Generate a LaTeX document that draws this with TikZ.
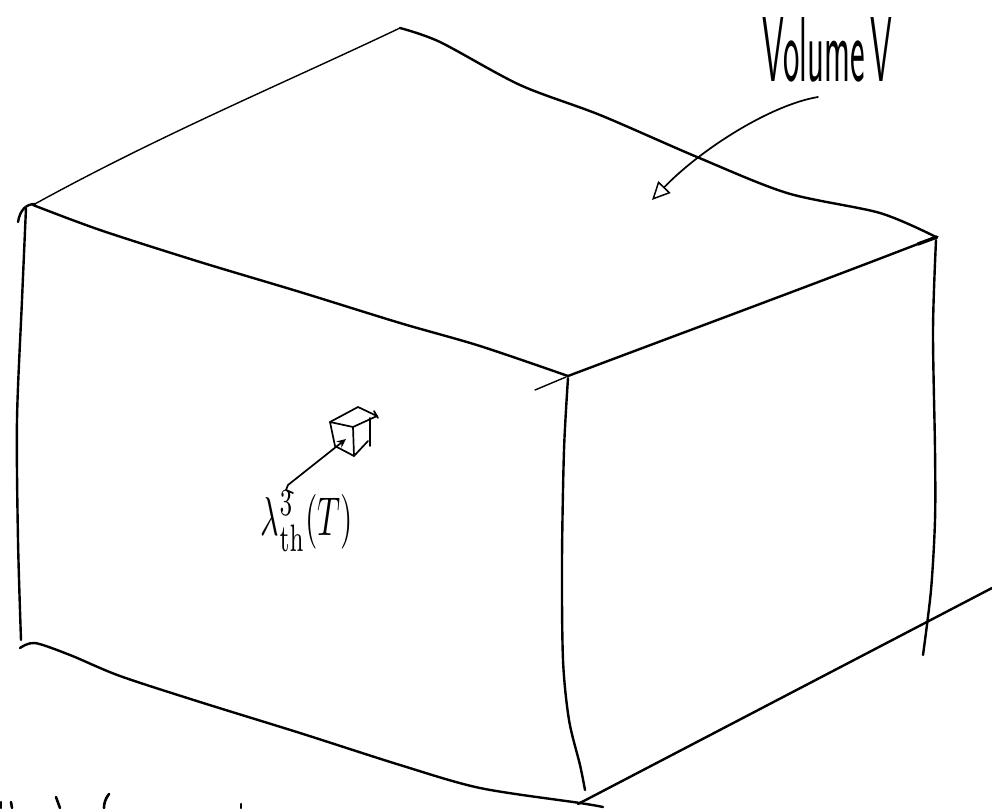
\documentclass[tikz,border=0pt]{standalone}
\usetikzlibrary{arrows.meta}
\begin{document}
\begin{tikzpicture}[x=1pt,y=-1pt,line cap=round,line join=round,
  edge/.style={line width=2.4pt},
  thinedge/.style={line width=1.4pt},
  smallcube/.style={line width=1.7pt},
  frag/.style={line width=2.6pt}]
\useasboundingbox[fill=white] (0,0) rectangle (992,808);
% corners
\coordinate (TB) at (400,28);
\coordinate (TL) at (33,205);
\coordinate (TF) at (568,376);
\coordinate (TR) at (936,237);
\coordinate (BL) at (21,645);
\coordinate (BF) at (580,803);
\coordinate (BR) at (923,655);
% top face
\draw[thinedge] (TL) .. controls (160,135) and (280,85) .. (TB);
\draw[edge] plot[smooth] coordinates {(400,28) (440,42) (520,85) (600,115) (697,157) (787,193) (880,213) (936,237)};
\draw[edge] plot[smooth] coordinates {(33,205) (100,230) (200,262) (300,292) (400,323) (480,346) (568,376)};
\draw[edge] (TF) .. controls (690,330) and (820,282) .. (TR);
\draw[line width=3.4pt] (918,244) -- (937,237);
\draw[thinedge] (535,390) -- (566,377);
% left corner hook and left edge
\draw[edge] (18,222) .. controls (20,210) and (26,204) .. (35,204);
\draw[edge] plot[smooth] coordinates {(26,208) (22,300) (17,420) (18,540) (21,640)};
% bottom left edge
\draw[edge] plot[smooth] coordinates {(20,648) (35,643) (70,655) (120,676) (200,702) (300,733) (400,765) (480,788) (580,803) (603,807)};
% front vertical edge
\draw[edge] plot[smooth] coordinates {(568,378) (564,450) (562,560) (563,660) (569,720) (580,765) (585,790)};
% right vertical edge
\draw[edge] plot[smooth] coordinates {(936,240) (933,330) (935,450) (935,520) (931,590) (923,655)};
% bottom right edge
\draw[edge] (578,804) -- (992,588);
% small cube
\draw[smallcube] (330,422) -- (353,427) -- (354,456) -- (335,446) -- cycle;
\draw[smallcube] (330,422) -- (358,407) -- (377,416) -- (353,427);
\draw[smallcube] (370,418) -- (370,446);
\draw[smallcube] (354,456) -- (368,441);
\draw[smallcube] (374,411) -- (378,418);
% arrow to small cube
\draw[line width=1.7pt,-{Stealth[length=9pt,width=8pt]}] (293,493) -- (286,490) -- (288,485) -- (346,439);
% label
\node[inner sep=0pt] (lam) at (307,521) {\resizebox*{92pt}{60pt}{$\lambda^3_{\mathrm{th}}(T)$}};
% volume label and arrow
\node[anchor=south west,inner sep=0pt] (vol) at (762,82) {\resizebox{130pt}{64pt}{\fontsize{95}{95}\selectfont\sffamily Volume\,V}};
\draw[line width=1.7pt,-{Triangle[open,length=18pt,width=17pt,line width=1.5pt]}] (818,97) .. controls (770,105) and (700,150) .. (652,200);
% cut-off text fragments at the bottom
\draw[frag] (1,802) -- (1,808);
\draw[frag] (11,802) -- (12,808);
\draw[frag] (56,797) -- (60,808);
\draw[frag] (109,794) .. controls (105,799) and (104,804) .. (104,808);
\draw[frag] (241,804) -- (241,808);
\end{tikzpicture}
\end{document}
